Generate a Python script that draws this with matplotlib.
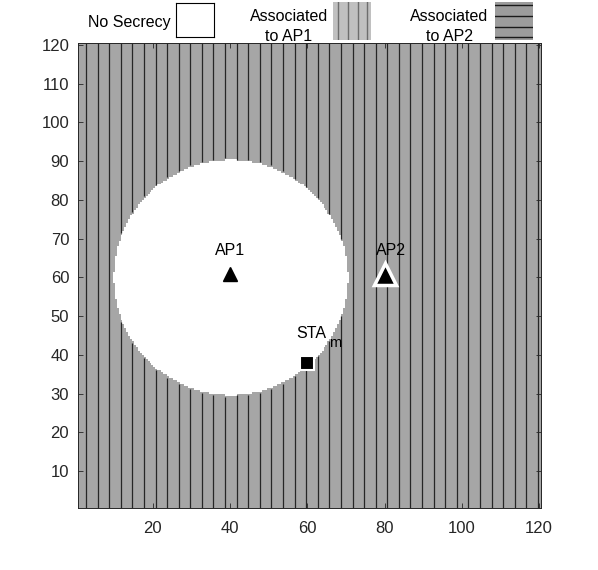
import numpy as np
import matplotlib
matplotlib.use('Agg')
import matplotlib.pyplot as plt
from matplotlib.markers import MarkerStyle

# positions on the 120 x 120 m grid
grid_size = 120
cell = 0.5
ap1 = (40, 61)
ap2 = (80, 61)
sta = (60, 38)
no_secrecy_center = (40, 60)
no_secrecy_radius = 30.3
x_ticks = [20, 40, 60, 80, 100, 120]
y_ticks = [10, 20, 30, 40, 50, 60, 70, 80, 90, 100, 110, 120]
legend_labels = ['No Secrecy', 'Associated\nto AP1', 'Associated\nto AP2']

hatch_step = 3
fill_gray = 0xa6 / 255
axis_col = '#262626'

plt.rcParams['font.family'] = ['Liberation Sans', 'DejaVu Sans']

lim = (0.5, grid_size + 0.5)
centres = np.arange(lim[0] + cell / 2, lim[1], cell)
gx, gy = np.meshgrid(centres, centres)
no_secrecy = (gx - no_secrecy_center[0])**2 + (gy - no_secrecy_center[1])**2 < no_secrecy_radius**2
img = np.where(no_secrecy[..., None], 1.0, fill_gray) * np.ones(3)

W, H = 598, 570
fig = plt.figure(figsize=(W / 100, H / 100), dpi=100)
ax = fig.add_axes([77.5 / W, 1 - 508 / H, (541 - 77.5) / W, (508 - 43) / H])
ax.imshow(img, origin='lower', extent=(*lim, *lim), interpolation='nearest', aspect='auto')

# vertical hatch lines of the AP1 area, broken where there is no secrecy
for xl in np.arange(hatch_step, grid_size + 1, hatch_step) - 0.3:
    col = int((xl - lim[0]) / cell)
    outside = (~no_secrecy[:, col]).astype(int)
    d = np.diff(np.concatenate([[0], outside, [0]]))
    for s, e in zip(np.where(d == 1)[0], np.where(d == -1)[0]):
        y0 = lim[0] + s * cell
        y1 = lim[0] + e * cell
        # keep a thin gray margin next to the white area
        if s > 0:
            y0 += 0.4
        if e < len(outside):
            y1 -= 0.4
        ax.vlines(xl, y0, y1, color='#262626', lw=0.9)

ax.set_xlim(*lim)
ax.set_ylim(*lim)
ax.set_xticks(x_ticks)
ax.set_yticks(y_ticks)
ax.tick_params(direction='in', top=True, right=True, length=3.6, width=0.6,
               color=axis_col, labelcolor=axis_col, labelsize=12)
ax.tick_params(axis='y', pad=6)
ax.tick_params(axis='x', pad=9.5)
for sp in ax.spines.values():
    sp.set_color(axis_col)
    sp.set_linewidth(0.7)

# markers
ax.plot(*ap1, marker=MarkerStyle('^', joinstyle='miter'), ms=10.5, color='black', ls='none')
ax.plot(*ap2, marker=MarkerStyle('^', joinstyle='miter'), ms=15.5, mfc='black', mec='white', mew=2.5, ls='none')
ax.plot(*sta, marker='s', ms=10, mfc='black', mec='white', mew=1.5, ls='none')

ax.annotate('AP1', ap1, xytext=(0, 18.5), textcoords='offset pixels', ha='center', va='baseline', fontsize=11.5)
ax.annotate('AP2', ap2, xytext=(6, 18.5), textcoords='offset pixels', ha='center', va='baseline', fontsize=11.5)
ax.annotate('STA', sta, xytext=(-11, 25), textcoords='offset pixels', ha='left', va='baseline', fontsize=11.5)
ax.annotate('m', sta, xytext=(22, 16), textcoords='offset pixels', ha='left', va='baseline', fontsize=10.5)

# legend drawn above the axes
def legend_box(x0, y0, x1, y1):
    b = fig.add_axes([x0 / W, 1 - y1 / H, (x1 - x0) / W, (y1 - y0) / H])
    b.set_xlim(0, 1)
    b.set_ylim(0, 1)
    b.set_xticks([])
    b.set_yticks([])
    return b

b1 = legend_box(175.5, 2.7, 214, 37)
b1.set_facecolor('white')
for sp in b1.spines.values():
    sp.set_color('black')
    sp.set_linewidth(0.8)

b2 = legend_box(333, 2, 371, 40)
b2.set_facecolor('#c0c0c0')
for f in [5 / 38, 15 / 38, 25 / 38, 34 / 38]:
    b2.axvline(f, color='#6e6e6e', lw=1.0)
for sp in b2.spines.values():
    sp.set_visible(False)

b3 = legend_box(495, 2, 533, 40)
b3.set_facecolor('#9c9c9c')
for f in [3 / 38, 13 / 38, 24 / 38, 35 / 38]:
    b3.axhline(f, color='#1a1a1a', lw=1.0)
for sp in b3.spines.values():
    sp.set_visible(False)

fig.text(171 / W, 1 - 27 / H, legend_labels[0], ha='right', va='baseline', fontsize=11.5)
for cx, lab in [(289, legend_labels[1]), (449, legend_labels[2])]:
    top, bottom = lab.split('\n')
    fig.text(cx / W, 1 - 20.7 / H, top, ha='center', va='baseline', fontsize=11.5)
    fig.text(cx / W, 1 - 40.7 / H, bottom, ha='center', va='baseline', fontsize=11.5)

fig.savefig('out.png', dpi=100)
